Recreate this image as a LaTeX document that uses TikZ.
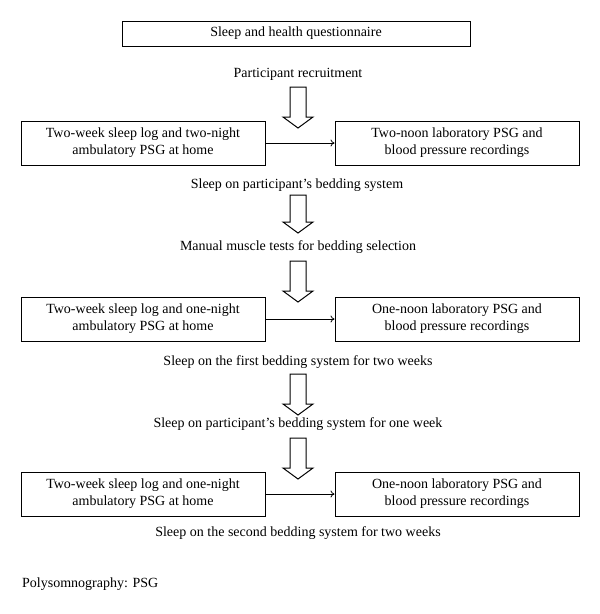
\documentclass[tikz,border=0pt]{standalone}
\usepackage{fontspec}
\setmainfont{Liberation Serif}
\usetikzlibrary{arrows.meta}
\tikzset{
  box/.style={draw, line width=1pt, minimum width=244pt, minimum height=44pt, align=center, inner sep=0pt, font=\fontsize{14}{17}\selectfont},
  topbox/.style={draw, line width=1pt, minimum width=348pt, minimum height=25pt, inner sep=0pt, font=\fontsize{14}{17}\selectfont},
  lbl/.style={inner sep=0pt, font=\fontsize{14}{17}\selectfont},
  link/.style={line width=0.8pt, -{To[length=4pt,width=7pt]}},
  barrow/.style={draw, line width=1pt, fill=white, line join=miter}
}
\newcommand{\blockarrow}[3]{%
  \draw[barrow] (#1-8,#2) -- (#1+8,#2) -- (#1+8,#3-11) -- (#1+15,#3-11) -- (#1,#3) -- (#1-15,#3-11) -- (#1-8,#3-11) -- cycle;}
\begin{document}
\begin{tikzpicture}[x=1pt,y=-1pt]
\useasboundingbox (0,0) rectangle (600,614);
\node[topbox] (q) at (296,33.5) {Sleep and health questionnaire};
\node[lbl] (recr) at (298,74) {Participant recruitment};
\node[box] (b1L) at (143,143) {Two-week sleep log and two-night\\ambulatory PSG at home};
\node[box] (b1R) at (457,143) {Two-noon laboratory PSG and\\blood pressure recordings};
\node[lbl] (s1) at (297,185) {Sleep on participant’s bedding system};
\node[lbl] (mm) at (298,247) {Manual muscle tests for bedding selection};
\node[box] (b2L) at (143,319) {Two-week sleep log and one-night\\ambulatory PSG at home};
\node[box] (b2R) at (457,319) {One-noon laboratory PSG and\\blood pressure recordings};
\node[lbl] (s2) at (298,362) {Sleep on the first bedding system for two weeks};
\node[lbl] (s3) at (298,424) {Sleep on participant’s bedding system for one week};
\node[box] (b3L) at (143,494) {Two-week sleep log and one-night\\ambulatory PSG at home};
\node[box] (b3R) at (457,494) {One-noon laboratory PSG and\\blood pressure recordings};
\node[lbl] (s4) at (298,533) {Sleep on the second bedding system for two weeks};
\node[lbl, anchor=west] (psg) at (22,584) {Polysomnography: PSG};
\draw[link] (b1L.east) -- (b1R.west);
\draw[link] (b2L.east) -- (b2R.west);
\draw[link] (b3L.east) -- (b3R.west);
\blockarrow{298}{87}{128}
\blockarrow{298}{195}{233}
\blockarrow{298}{261}{302}
\blockarrow{298}{374}{415}
\blockarrow{298}{438}{479}
\end{tikzpicture}
\end{document}
